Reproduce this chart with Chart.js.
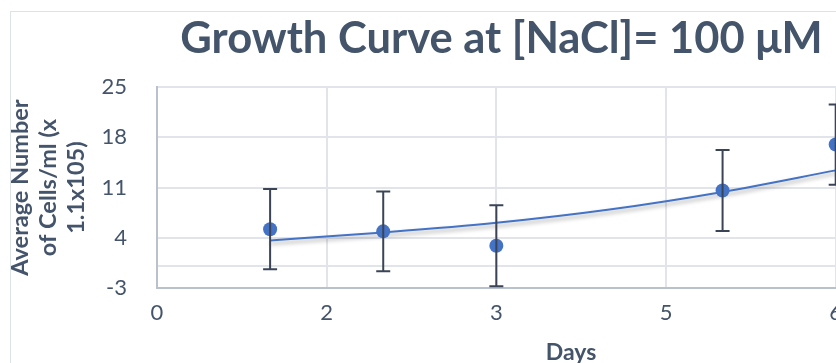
<!DOCTYPE html>
<html>
<head>
<meta charset="utf-8">
<script src="https://cdn.jsdelivr.net/npm/chart.js@4.4.1/dist/chart.umd.min.js"></script>
<style>
  html, body { margin: 0; padding: 0; background: #fff; overflow: hidden; }
  #wrap {
    position: absolute; left: 10px; top: 11px;
    width: 981px; height: 380px;
    border: 1px solid #dde2e9;
  }
</style>
</head>
<body>
<div id="wrap"><canvas id="chart" width="981" height="380"></canvas></div>
<script>
// Measured values (days vs average cells/ml x 1.1x10^5)
const days = [1, 2, 3, 5, 6];
const cells = [5.2, 4.9, 2.9, 10.6, 17.0];
const errors = [5.6, 5.55, 5.65, 5.65, 5.6];

// Exponential trendline
const trendDays = [1, 2, 3, 4, 5, 6];
const trendCells = [3.63, 4.75, 6.1, 7.95, 10.4, 13.4];

// Axis ticks
const xTicks = [0, 1.5, 3, 4.5, 6];
const xTickLabels = ['0', '2', '3', '5', '6'];
const yTicks = [-3, 4, 11, 18, 25];
const yExtraGrid = [0];

const textColor = '#44546a';
const gridColor = '#e1e5eb';
const axisColor = '#b9c1cc';
const blue = '#4472c4';

// Error bars drawn on top of the markers
const errorBars = {
  id: 'errorBars',
  afterDatasetsDraw(chart) {
    const ctx = chart.ctx;
    const x = chart.scales.x;
    const y = chart.scales.y;
    ctx.save();
    ctx.strokeStyle = '#3a4456';
    ctx.lineWidth = 2;
    days.forEach((d, i) => {
      const px = x.getPixelForValue(d);
      const top = y.getPixelForValue(cells[i] + errors[i]);
      const bottom = y.getPixelForValue(cells[i] - errors[i]);
      ctx.beginPath();
      ctx.moveTo(px, top);
      ctx.lineTo(px, bottom);
      ctx.moveTo(px - 7, top);
      ctx.lineTo(px + 7, top);
      ctx.moveTo(px - 7, bottom);
      ctx.lineTo(px + 7, bottom);
      ctx.stroke();
    });
    ctx.restore();
  }
};

// Soft shadow under the trendline
const trendShadow = {
  id: 'trendShadow',
  beforeDatasetDraw(chart, args) {
    if (args.index !== 1) return;
    const ctx = chart.ctx;
    ctx.save();
    ctx.shadowColor = 'rgba(0, 0, 0, 0.35)';
    ctx.shadowBlur = 4;
    ctx.shadowOffsetY = 3;
  },
  afterDatasetDraw(chart, args) {
    if (args.index !== 1) return;
    chart.ctx.restore();
  }
};

new Chart(document.getElementById('chart'), {
  type: 'scatter',
  data: {
    datasets: [{
      label: 'Cells',
      data: days.map((d, i) => ({x: d, y: cells[i]})),
      backgroundColor: blue,
      borderWidth: 0,
      pointRadius: 7,
      showLine: false,
      order: 0
    }, {
      label: 'Trend',
      data: trendDays.map((d, i) => ({x: d, y: trendCells[i]})),
      borderColor: blue,
      borderWidth: 2,
      pointRadius: 0,
      showLine: true,
      cubicInterpolationMode: 'monotone',
      order: 1
    }]
  },
  options: {
    responsive: false,
    animation: false,
    layout: {padding: 0},
    plugins: {
      legend: {display: false},
      tooltip: {enabled: false},
      title: {
        display: true,
        text: 'Growth Curve at [NaCl]= 100 μM',
        color: textColor,
        font: {family: 'Lato', size: 43.5, weight: 'bold', lineHeight: 1.2},
        padding: {top: 1, bottom: 22}
      }
    },
    scales: {
      x: {
        type: 'linear',
        min: 0,
        max: 7.32,
        afterBuildTicks: scale => {
          scale.ticks = xTicks.map(v => ({value: v}));
        },
        afterFit: scale => { scale.height = 104; },
        grid: {color: gridColor, lineWidth: 2, drawTicks: false},
        border: {color: axisColor, width: 2},
        ticks: {
          color: textColor,
          padding: 12,
          font: {family: 'Lato', size: 22},
          callback: (value, index) => xTickLabels[index]
        },
        title: {
          display: true,
          text: 'Days',
          color: textColor,
          font: {family: 'Lato', size: 23, weight: 'bold', lineHeight: 1.2},
          padding: {top: 0, bottom: 26}
        }
      },
      y: {
        min: -3,
        max: 25,
        afterBuildTicks: scale => {
          scale.ticks = yTicks.concat(yExtraGrid)
              .sort((a, b) => a - b)
              .map(v => ({value: v}));
        },
        afterFit: scale => { scale.width = 146; },
        grid: {color: gridColor, lineWidth: 2, drawTicks: false},
        border: {color: axisColor, width: 2},
        ticks: {
          color: textColor,
          padding: 30,
          font: {family: 'Lato', size: 22},
          callback: value => yTicks.includes(value) ? String(value) : ''
        },
        title: {
          display: true,
          text: ['Average Number', 'of Cells/ml (x', '1.1x105)'],
          color: textColor,
          font: {family: 'Lato', size: 23.5, weight: 'bold', lineHeight: '28px'},
          padding: {top: -5, bottom: 0}
        }
      }
    }
  },
  plugins: [errorBars, trendShadow]
});
</script>
</body>
</html>
